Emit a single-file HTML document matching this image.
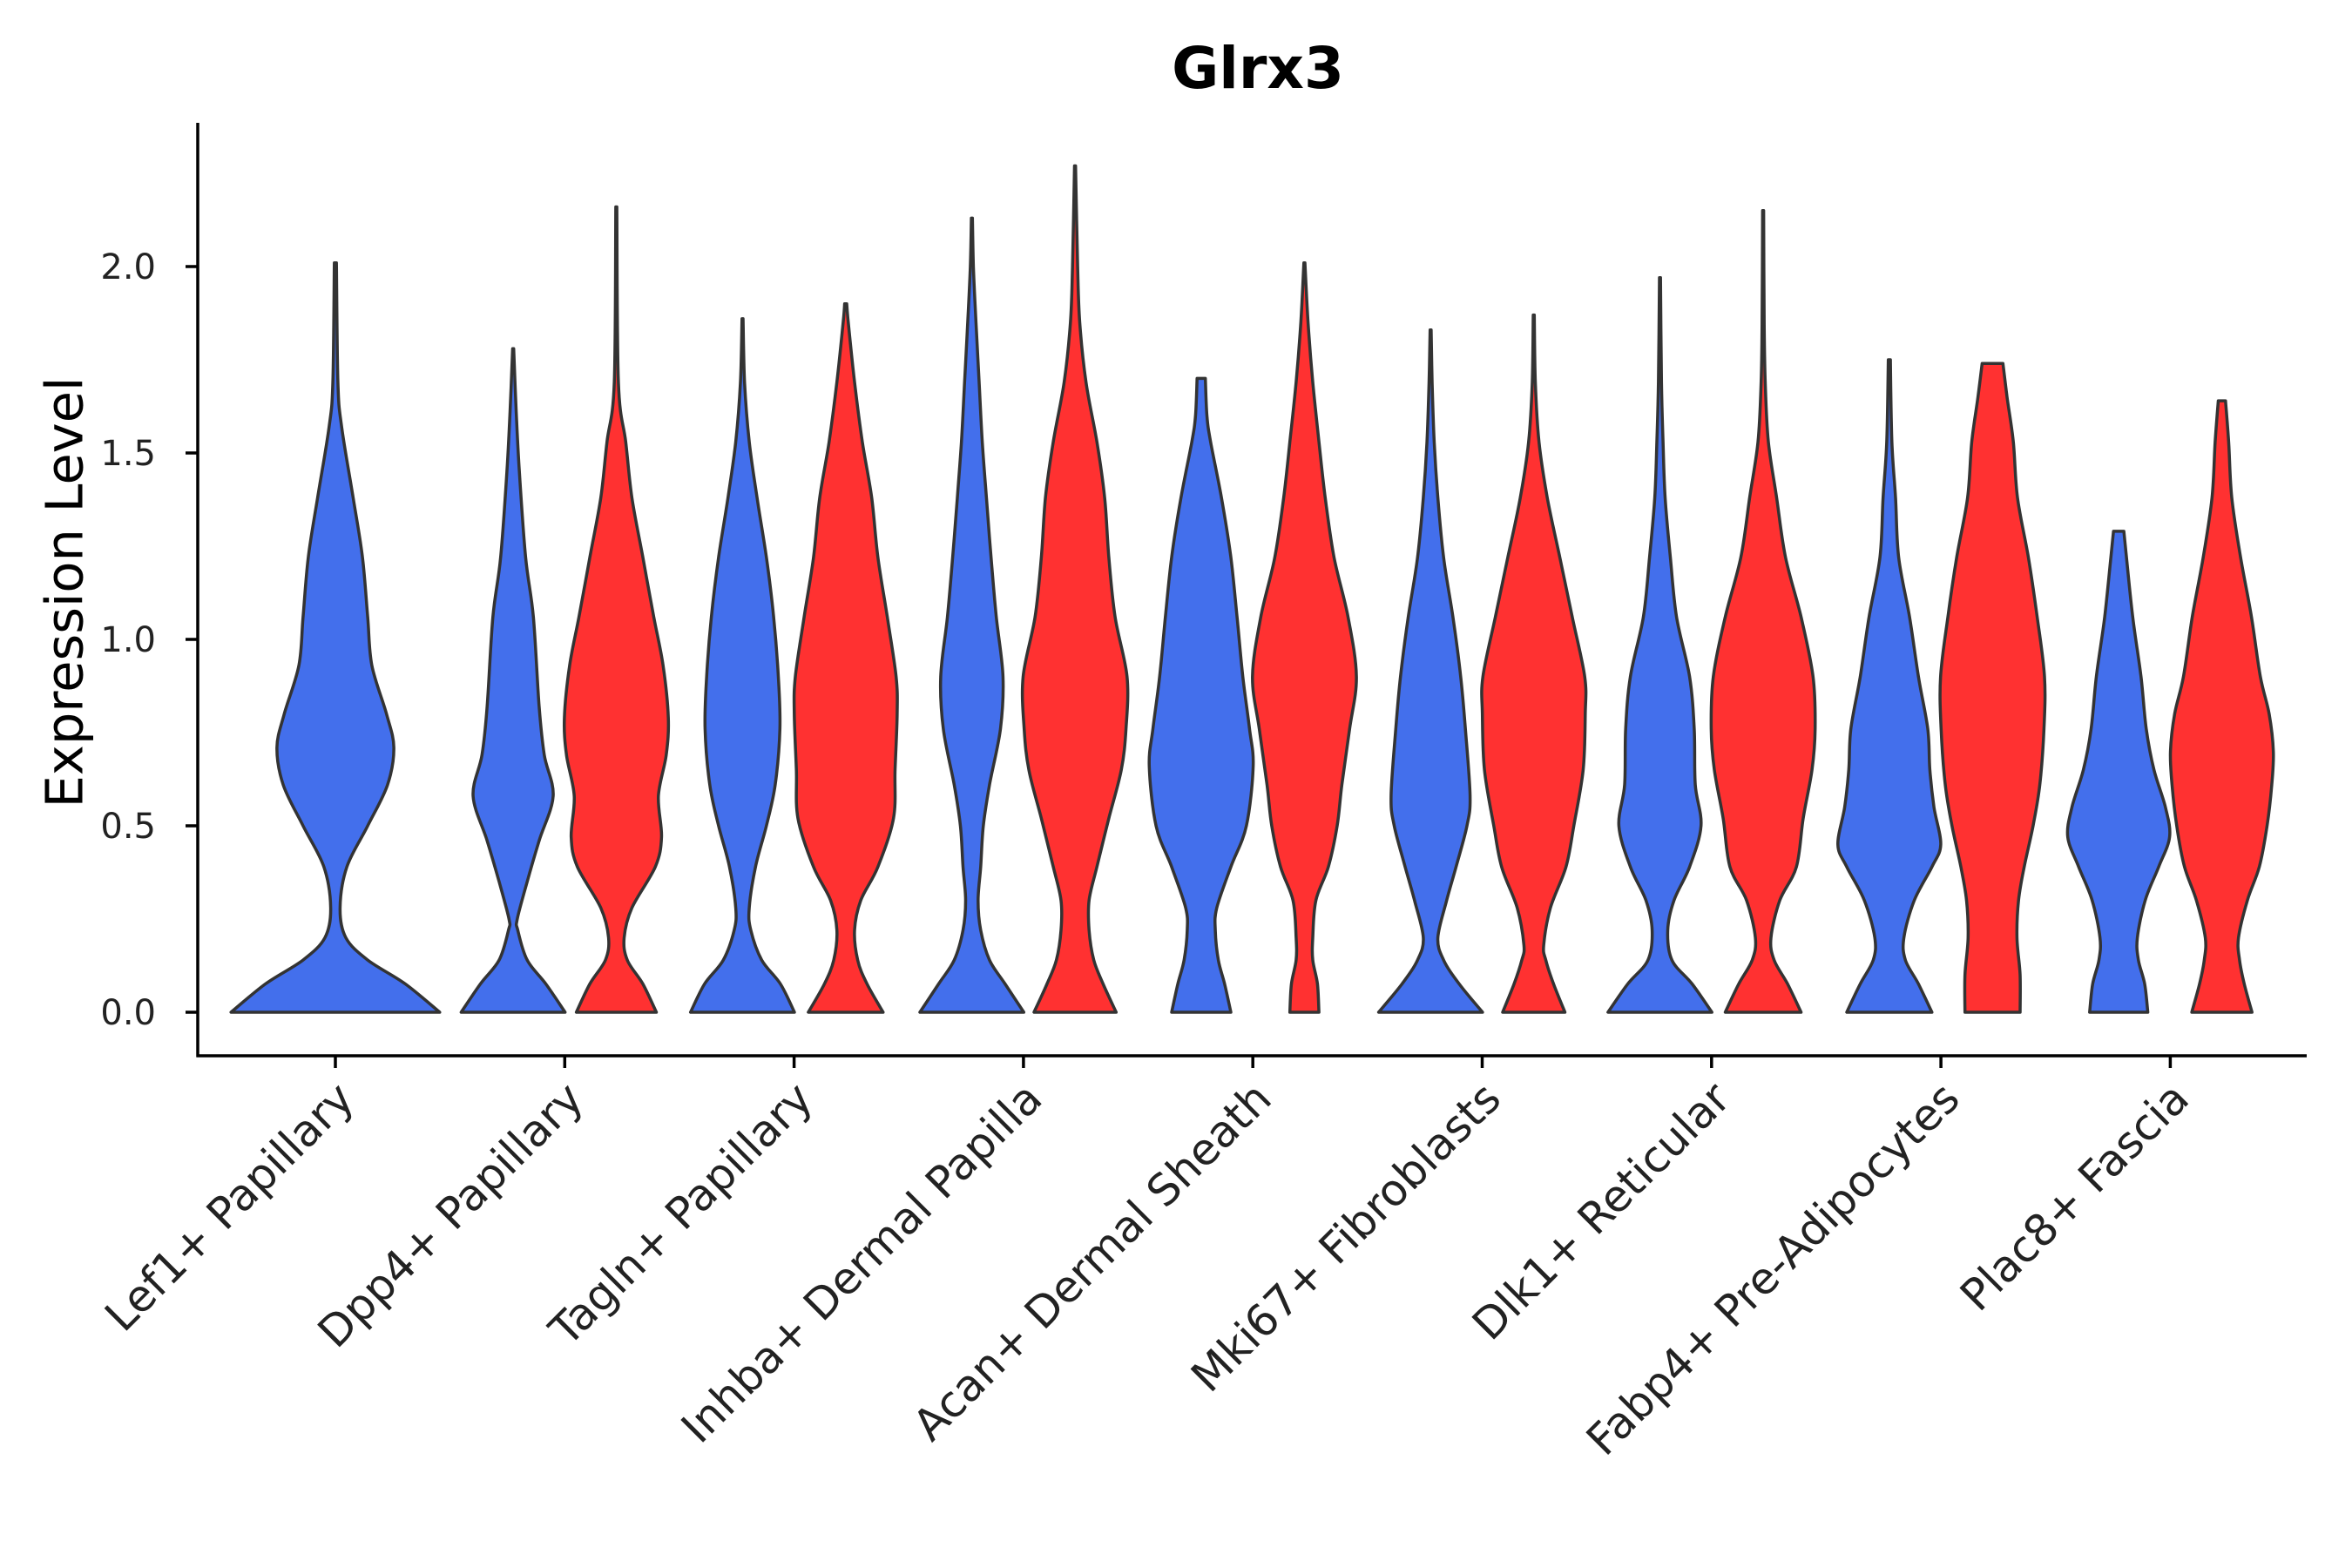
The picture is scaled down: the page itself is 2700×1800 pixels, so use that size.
<!DOCTYPE html>
<html><head><meta charset="utf-8"><style>
html,body{margin:0;padding:0;background:#fff;}
svg{display:block;font-family:"DejaVu Sans","Liberation Sans",sans-serif;}
</style></head><body>
<svg id="chart" width="2700" height="1800" viewBox="0 0 2700 1800" xmlns="http://www.w3.org/2000/svg">
<rect width="2700" height="1800" fill="#fff"/>
<text x="1444" y="101" text-anchor="middle" font-size="66" font-weight="bold">Glrx3</text>
<g id="plot"></g>
</svg>
<script>
const categories = ["Lef1+ Papillary","Dpp4+ Papillary","Tagln+ Papillary","Inhba+ Dermal Papilla","Acan+ Dermal Sheath","Mki67+ Fibroblasts","Dlk1+ Reticular","Fabp4+ Pre-Adipocytes","Plac8+ Fascia"];
const yTicks = [0, 0.5, 1.0, 1.5, 2.0];
const yTickLabels = ["0.0","0.5","1.0","1.5","2.0"];

const lef1BlueY = [0,0.076,0.14,0.2,0.28,0.39,0.5,0.61,0.71,0.8,0.93,1.06,1.22,1.38,1.57,1.69,2.01];
const lef1BlueW = [1.0,0.67,0.31,0.1,0.045,0.11,0.31,0.5,0.56,0.49,0.35,0.31,0.26,0.17,0.06,0.024,0.01];

const dpp4BlueY = [0,0.076,0.14,0.22,0.25,0.35,0.46,0.58,0.69,0.82,1.06,1.22,1.45,1.61,1.78];
const dpp4BlueW = [1.0,0.63,0.27,0.09,0.08,0.27,0.5,0.77,0.6,0.5,0.39,0.24,0.12,0.06,0.01];
const dpp4RedY = [0,0.076,0.14,0.2,0.28,0.39,0.47,0.58,0.69,0.79,0.93,1.06,1.22,1.38,1.53,1.69,2.16];
const dpp4RedW = [0.77,0.51,0.21,0.15,0.3,0.75,0.87,0.81,0.96,1.0,0.9,0.72,0.51,0.3,0.18,0.04,0.01];

const taglnBlueY = [0,0.076,0.14,0.22,0.28,0.39,0.5,0.61,0.76,0.9,1.06,1.22,1.38,1.53,1.69,1.86];
const taglnBlueW = [1.0,0.73,0.37,0.16,0.13,0.25,0.46,0.63,0.72,0.69,0.6,0.46,0.28,0.13,0.04,0.01];
const taglnRedY = [0,0.076,0.14,0.22,0.3,0.39,0.52,0.65,0.8,0.9,1.06,1.22,1.38,1.53,1.69,1.85,1.9];
const taglnRedW = [0.72,0.41,0.23,0.17,0.29,0.62,0.92,0.95,0.99,0.97,0.8,0.62,0.5,0.32,0.17,0.05,0.02];

const inhbaBlueY = [0,0.076,0.14,0.22,0.3,0.39,0.5,0.61,0.76,0.9,1.06,1.22,1.38,1.53,1.69,1.85,2.0,2.13];
const inhbaBlueW = [1.0,0.64,0.34,0.17,0.12,0.17,0.22,0.34,0.55,0.6,0.47,0.37,0.28,0.2,0.14,0.08,0.03,0.01];
const inhbaRedY = [0,0.076,0.14,0.22,0.3,0.39,0.52,0.65,0.76,0.9,1.06,1.22,1.38,1.53,1.69,1.85,2.0,2.27];
const inhbaRedW = [0.79,0.54,0.36,0.27,0.27,0.42,0.65,0.89,0.98,1.0,0.77,0.65,0.57,0.42,0.21,0.09,0.05,0.01];

const acanBlueY = [0,0.076,0.14,0.22,0.28,0.39,0.5,0.66,0.76,0.9,1.06,1.22,1.38,1.53,1.6,1.7];
const acanBlueW = [0.57,0.45,0.33,0.27,0.3,0.57,0.87,1.0,0.93,0.8,0.69,0.57,0.39,0.18,0.11,0.08];
const acanRedY = [0,0.076,0.14,0.2,0.3,0.39,0.5,0.61,0.76,0.9,1.06,1.22,1.38,1.53,1.69,1.85,2.01];
const acanRedW = [0.28,0.25,0.16,0.16,0.22,0.46,0.63,0.72,0.87,1.0,0.84,0.57,0.4,0.28,0.16,0.07,0.01];

const mki67BlueY = [0,0.076,0.14,0.2,0.3,0.39,0.5,0.58,0.76,0.9,1.06,1.22,1.38,1.53,1.69,1.83];
const mki67BlueW = [1.0,0.55,0.25,0.14,0.31,0.49,0.7,0.76,0.67,0.58,0.43,0.25,0.14,0.07,0.03,0.01];
const mki67RedY = [0,0.076,0.14,0.18,0.28,0.39,0.5,0.65,0.8,0.9,1.06,1.22,1.38,1.53,1.69,1.87];
const mki67RedW = [0.6,0.38,0.23,0.19,0.32,0.62,0.77,0.95,0.99,0.98,0.74,0.5,0.26,0.1,0.03,0.01];

const dlk1BlueY = [0,0.076,0.14,0.22,0.3,0.39,0.5,0.61,0.76,0.9,1.06,1.22,1.38,1.53,1.69,1.97];
const dlk1BlueW = [1.0,0.62,0.23,0.15,0.27,0.57,0.79,0.68,0.66,0.57,0.32,0.2,0.1,0.06,0.03,0.01];
const dlk1RedY = [0,0.076,0.14,0.2,0.3,0.39,0.52,0.65,0.76,0.9,1.06,1.22,1.38,1.53,1.69,1.85,2.15];
const dlk1RedW = [0.73,0.47,0.21,0.15,0.32,0.64,0.77,0.94,1.0,0.96,0.73,0.43,0.26,0.1,0.04,0.02,0.01];

const fabp4BlueY = [0,0.076,0.14,0.2,0.3,0.39,0.45,0.55,0.65,0.76,0.9,1.06,1.22,1.38,1.53,1.75];
const fabp4BlueW = [0.82,0.56,0.31,0.28,0.48,0.82,0.99,0.86,0.78,0.74,0.56,0.39,0.18,0.12,0.05,0.02];
const fabp4RedY = [0,0.1,0.2,0.3,0.39,0.5,0.61,0.76,0.9,1.06,1.22,1.38,1.53,1.65,1.74];
const fabp4RedW = [0.53,0.53,0.47,0.5,0.61,0.78,0.91,0.99,1.0,0.86,0.69,0.48,0.4,0.28,0.2];

const plac8BlueY = [0,0.076,0.14,0.2,0.3,0.39,0.47,0.55,0.65,0.76,0.9,1.06,1.22,1.29];
const plac8BlueW = [0.56,0.5,0.38,0.36,0.51,0.77,0.98,0.9,0.68,0.53,0.43,0.27,0.15,0.1];
const plac8RedY = [0,0.076,0.14,0.2,0.3,0.39,0.5,0.61,0.7,0.8,0.9,1.06,1.22,1.38,1.53,1.64];
const plac8RedW = [0.58,0.43,0.34,0.32,0.49,0.72,0.87,0.96,0.99,0.91,0.74,0.57,0.36,0.19,0.13,0.07];

const violins = [
  {cat:0, side:0, ys:lef1BlueY, ws:lef1BlueW},
  {cat:1, side:-1, ys:dpp4BlueY, ws:dpp4BlueW},
  {cat:1, side:1, ys:dpp4RedY, ws:dpp4RedW},
  {cat:2, side:-1, ys:taglnBlueY, ws:taglnBlueW},
  {cat:2, side:1, ys:taglnRedY, ws:taglnRedW},
  {cat:3, side:-1, ys:inhbaBlueY, ws:inhbaBlueW},
  {cat:3, side:1, ys:inhbaRedY, ws:inhbaRedW},
  {cat:4, side:-1, ys:acanBlueY, ws:acanBlueW},
  {cat:4, side:1, ys:acanRedY, ws:acanRedW},
  {cat:5, side:-1, ys:mki67BlueY, ws:mki67BlueW},
  {cat:5, side:1, ys:mki67RedY, ws:mki67RedW},
  {cat:6, side:-1, ys:dlk1BlueY, ws:dlk1BlueW},
  {cat:6, side:1, ys:dlk1RedY, ws:dlk1RedW},
  {cat:7, side:-1, ys:fabp4BlueY, ws:fabp4BlueW},
  {cat:7, side:1, ys:fabp4RedY, ws:fabp4RedW},
  {cat:8, side:-1, ys:plac8BlueY, ws:plac8BlueW},
  {cat:8, side:1, ys:plac8RedY, ws:plac8RedW}
];

const NS = "http://www.w3.org/2000/svg";
const plot = document.getElementById('plot');
const axL = 227, axB = 1212, axR = 2648, axT = 141;
const x0 = 385, spacing = 263.3;
const y0px = 1162, pxPerUnit = 428;
function xScale(i){ return x0 + i*spacing; }
function yScale(v){ return y0px - v*pxPerUnit; }
function mk(tag, attrs){ const e=document.createElementNS(NS,tag); for(const k in attrs) e.setAttribute(k, attrs[k]); return e; }

function smooth(pts){
  let d='';
  for(let i=0;i<pts.length-1;i++){
    const p0=pts[i-1]||pts[i], p1=pts[i], p2=pts[i+1], p3=pts[i+2]||pts[i+1];
    const c1=[p1[0]+(p2[0]-p0[0])/6, p1[1]+(p2[1]-p0[1])/6];
    const c2=[p2[0]-(p3[0]-p1[0])/6, p2[1]-(p3[1]-p1[1])/6];
    d+=` C${c1[0].toFixed(1)},${c1[1].toFixed(1)} ${c2[0].toFixed(1)},${c2[1].toFixed(1)} ${p2[0].toFixed(1)},${p2[1].toFixed(1)}`;
  }
  return d;
}

violins.forEach(v=>{
  const cx = xScale(v.cat) + v.side*0.225*spacing;
  const half = v.side===0 ? 0.455*spacing : 0.2265*spacing;
  const right = v.ys.map((y,k)=>[cx + v.ws[k]*half, yScale(y)]);
  const left = v.ys.map((y,k)=>[cx - v.ws[k]*half, yScale(y)]).reverse();
  let d = `M${right[0][0].toFixed(1)},${right[0][1].toFixed(1)}` + smooth(right) +
          ` L${left[0][0].toFixed(1)},${left[0][1].toFixed(1)}` + smooth(left) + ' Z';
  const p = mk('path',{d:d, fill: v.side===1 ? '#ff3131' : '#436fec', stroke:'#333', 'stroke-width':3.5, 'stroke-linejoin':'round'});
  
  
  plot.appendChild(p);
});

const ya = mk('line',{x1:axL,y1:axT,x2:axL,y2:axB+1.5,stroke:'#000','stroke-width':3.5});


plot.appendChild(ya);
const xa = mk('line',{x1:axL-1.5,y1:axB,x2:axR,y2:axB,stroke:'#000','stroke-width':3.5});


plot.appendChild(xa);

yTicks.forEach((t,i)=>{
  const y=yScale(t);
  const tk=mk('line',{x1:axL-14,y1:y,x2:axL,y2:y,stroke:'#000','stroke-width':3.5});
  
  
  plot.appendChild(tk);
  const tx=mk('text',{x:axL-48,y:y+14,'text-anchor':'end','font-size':40,fill:'#222'});
  tx.textContent=yTickLabels[i];
  
  
  plot.appendChild(tx);
});

categories.forEach((c,i)=>{
  const x=xScale(i);
  const tk=mk('line',{x1:x,y1:axB,x2:x,y2:axB+14,stroke:'#000','stroke-width':3.5});
  
  
  plot.appendChild(tk);
  const ax=x-2, ay=1238;
  const tx=mk('text',{x:ax,y:ay,'text-anchor':'end','font-size':50,fill:'#222','dominant-baseline':'hanging',transform:`rotate(-45 ${ax} ${ay})`});
  tx.textContent=c;
  
  
  plot.appendChild(tx);
});

const yt=mk('text',{x:0,y:0,'text-anchor':'middle','dominant-baseline':'central','font-size':59,fill:'#000',transform:'translate(74 680) rotate(-90)'});
yt.textContent='Expression Level';


plot.appendChild(yt);
</script>
</body></html>
